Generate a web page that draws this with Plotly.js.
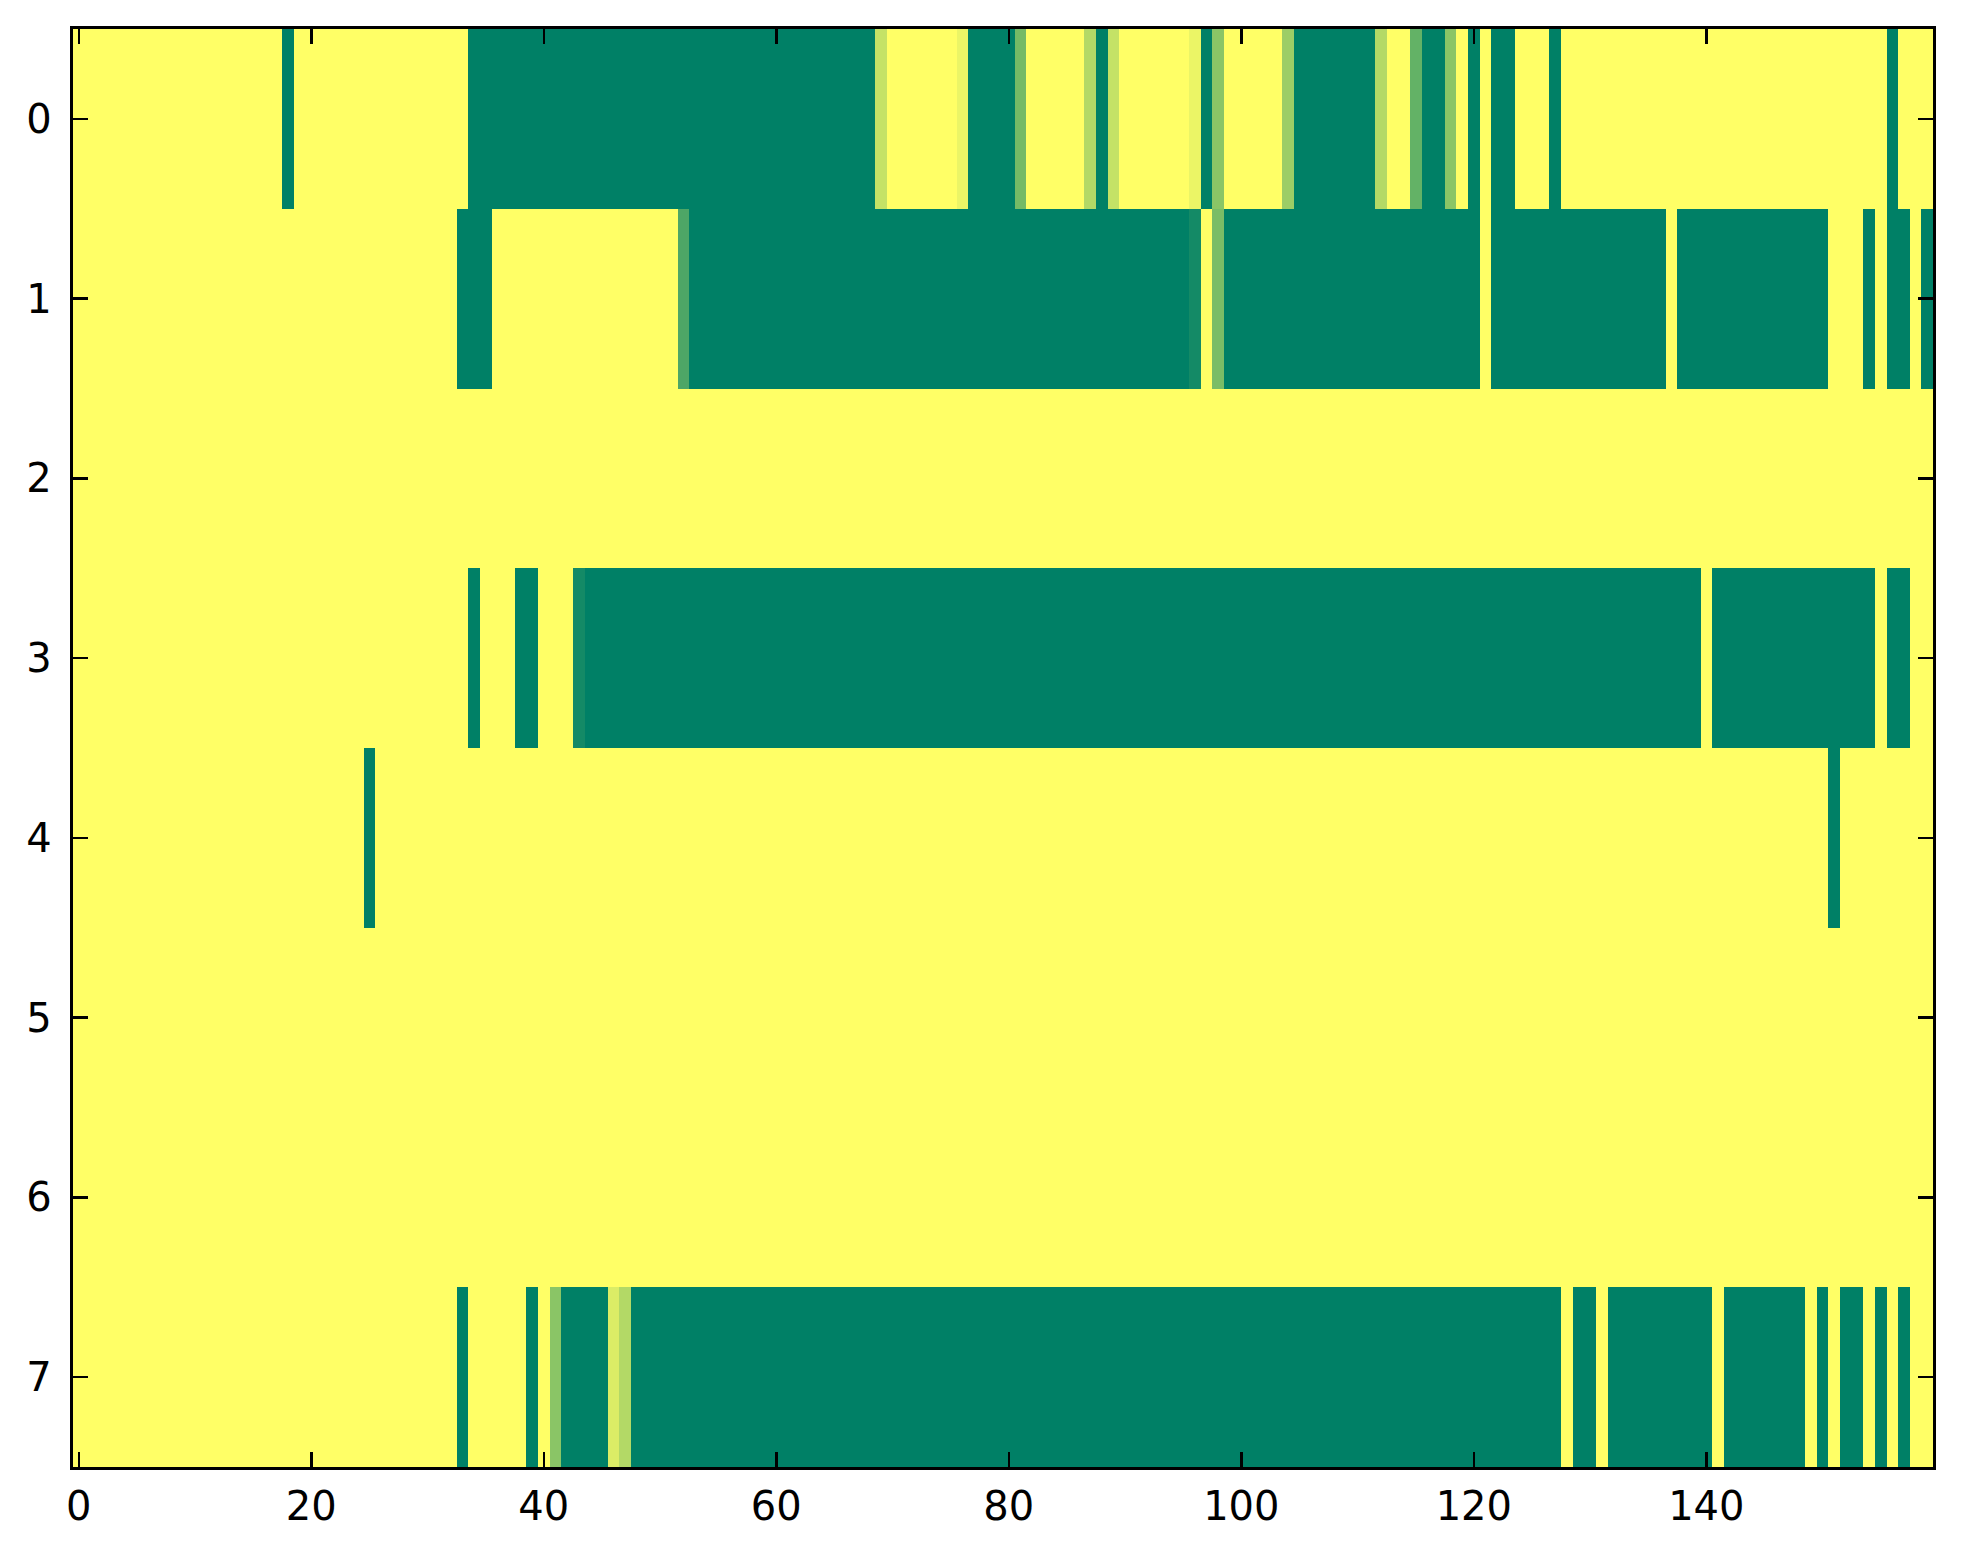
<!DOCTYPE html>
<html>
<head>
<meta charset="utf-8">
<script src="https://cdn.plot.ly/plotly-3.0.1.min.js"></script>
<style>
  html, body { margin: 0; padding: 0; background: #ffffff; }
  #chart { width: 1963px; height: 1564px; }
</style>
</head>
<body>
<div id="chart"></div>
<script>
// Row labels (y) and x tick labels
const rowLabels = [0, 1, 2, 3, 4, 5, 6, 7];
const xTickVals = [0, 20, 40, 60, 80, 100, 120, 140];
const yTickVals = [0, 1, 2, 3, 4, 5, 6, 7];

// Cell values (0 = green, 1 = yellow), 160 columns per row
const row0 = [
  1,1,1,1,1,1,1,1,1,1,
  1,1,1,1,1,1,1,1,0,1,
  1,1,1,1,1,1,1,1,1,1,
  1,1,1,1,0,0,0,0,0,0,
  0,0,0,0,0,0,0,0,0,0,
  0,0,0,0,0,0,0,0,0,0,
  0,0,0,0,0,0,0,0,0,0.77,
  1,1,1,1,1,1,0.92,0,0,0,
  0,0.46,1,1,1,1,1,0.70,0,0.77,
  1,1,1,1,1,1,0.92,0,0.54,1,
  1,1,1,1,0.61,0,0,0,0,0,
  0,0,0.70,1,1,0.39,0,0,0.54,1,
  0,1,0,0,1,1,1,0,1,1,
  1,1,1,1,1,1,1,1,1,1,
  1,1,1,1,1,1,1,1,1,1,
  1,1,1,1,1,1,0,1,1,1
];
const row1 = [
  1,1,1,1,1,1,1,1,1,1,
  1,1,1,1,1,1,1,1,1,1,
  1,1,1,1,1,1,1,1,1,1,
  1,1,1,0,0,0,1,1,1,1,
  1,1,1,1,1,1,1,1,1,1,
  1,1,0.30,0,0,0,0,0,0,0,
  0,0,0,0,0,0,0,0,0,0,
  0,0,0,0,0,0,0,0,0,0,
  0,0,0,0,0,0,0,0,0,0,
  0,0,0,0,0,0,0.08,1,0.48,0,
  0,0,0,0,0,0,0,0,0,0,
  0,0,0,0,0,0,0,0,0,0,
  0,1,0,0,0,0,0,0,0,0,
  0,0,0,0,0,0,0,1,0,0,
  0,0,0,0,0,0,0,0,0,0,
  0,1,1,1,0,1,0,0,1,0
];
const row2 = [
  1,1,1,1,1,1,1,1,1,1,
  1,1,1,1,1,1,1,1,1,1,
  1,1,1,1,1,1,1,1,1,1,
  1,1,1,1,1,1,1,1,1,1,
  1,1,1,1,1,1,1,1,1,1,
  1,1,1,1,1,1,1,1,1,1,
  1,1,1,1,1,1,1,1,1,1,
  1,1,1,1,1,1,1,1,1,1,
  1,1,1,1,1,1,1,1,1,1,
  1,1,1,1,1,1,1,1,1,1,
  1,1,1,1,1,1,1,1,1,1,
  1,1,1,1,1,1,1,1,1,1,
  1,1,1,1,1,1,1,1,1,1,
  1,1,1,1,1,1,1,1,1,1,
  1,1,1,1,1,1,1,1,1,1,
  1,1,1,1,1,1,1,1,1,1
];
const row3 = [
  1,1,1,1,1,1,1,1,1,1,
  1,1,1,1,1,1,1,1,1,1,
  1,1,1,1,1,1,1,1,1,1,
  1,1,1,1,0,1,1,1,0,0,
  1,1,1,0.08,0,0,0,0,0,0,
  0,0,0,0,0,0,0,0,0,0,
  0,0,0,0,0,0,0,0,0,0,
  0,0,0,0,0,0,0,0,0,0,
  0,0,0,0,0,0,0,0,0,0,
  0,0,0,0,0,0,0,0,0,0,
  0,0,0,0,0,0,0,0,0,0,
  0,0,0,0,0,0,0,0,0,0,
  0,0,0,0,0,0,0,0,0,0,
  0,0,0,0,0,0,0,0,0,0,
  1,0,0,0,0,0,0,0,0,0,
  0,0,0,0,0,1,0,0,1,1
];
const row4 = [
  1,1,1,1,1,1,1,1,1,1,
  1,1,1,1,1,1,1,1,1,1,
  1,1,1,1,1,0,1,1,1,1,
  1,1,1,1,1,1,1,1,1,1,
  1,1,1,1,1,1,1,1,1,1,
  1,1,1,1,1,1,1,1,1,1,
  1,1,1,1,1,1,1,1,1,1,
  1,1,1,1,1,1,1,1,1,1,
  1,1,1,1,1,1,1,1,1,1,
  1,1,1,1,1,1,1,1,1,1,
  1,1,1,1,1,1,1,1,1,1,
  1,1,1,1,1,1,1,1,1,1,
  1,1,1,1,1,1,1,1,1,1,
  1,1,1,1,1,1,1,1,1,1,
  1,1,1,1,1,1,1,1,1,1,
  1,0,1,1,1,1,1,1,1,1
];
const row5 = [
  1,1,1,1,1,1,1,1,1,1,
  1,1,1,1,1,1,1,1,1,1,
  1,1,1,1,1,1,1,1,1,1,
  1,1,1,1,1,1,1,1,1,1,
  1,1,1,1,1,1,1,1,1,1,
  1,1,1,1,1,1,1,1,1,1,
  1,1,1,1,1,1,1,1,1,1,
  1,1,1,1,1,1,1,1,1,1,
  1,1,1,1,1,1,1,1,1,1,
  1,1,1,1,1,1,1,1,1,1,
  1,1,1,1,1,1,1,1,1,1,
  1,1,1,1,1,1,1,1,1,1,
  1,1,1,1,1,1,1,1,1,1,
  1,1,1,1,1,1,1,1,1,1,
  1,1,1,1,1,1,1,1,1,1,
  1,1,1,1,1,1,1,1,1,1
];
const row6 = [
  1,1,1,1,1,1,1,1,1,1,
  1,1,1,1,1,1,1,1,1,1,
  1,1,1,1,1,1,1,1,1,1,
  1,1,1,1,1,1,1,1,1,1,
  1,1,1,1,1,1,1,1,1,1,
  1,1,1,1,1,1,1,1,1,1,
  1,1,1,1,1,1,1,1,1,1,
  1,1,1,1,1,1,1,1,1,1,
  1,1,1,1,1,1,1,1,1,1,
  1,1,1,1,1,1,1,1,1,1,
  1,1,1,1,1,1,1,1,1,1,
  1,1,1,1,1,1,1,1,1,1,
  1,1,1,1,1,1,1,1,1,1,
  1,1,1,1,1,1,1,1,1,1,
  1,1,1,1,1,1,1,1,1,1,
  1,1,1,1,1,1,1,1,1,1
];
const row7 = [
  1,1,1,1,1,1,1,1,1,1,
  1,1,1,1,1,1,1,1,1,1,
  1,1,1,1,1,1,1,1,1,1,
  1,1,1,0,1,1,1,1,1,0,
  1,0.54,0,0,0,0,0.86,0.70,0,0,
  0,0,0,0,0,0,0,0,0,0,
  0,0,0,0,0,0,0,0,0,0,
  0,0,0,0,0,0,0,0,0,0,
  0,0,0,0,0,0,0,0,0,0,
  0,0,0,0,0,0,0,0,0,0,
  0,0,0,0,0,0,0,0,0,0,
  0,0,0,0,0,0,0,0,0,0,
  0,0,0,0,0,0,0,0,1,0,
  0,1,0,0,0,0,0,0,0,0,
  0,1,0,0,0,0,0,0,0,1,
  0,1,0,0,1,0,1,0,1,1
];

const zRows = [row0, row1, row2, row3, row4, row5, row6, row7];
const colIndex = row0.map((_, i) => i);

const summer = [[0, 'rgb(0,128,102)'], [1, 'rgb(255,255,102)']];

const trace = {
  type: 'heatmap',
  z: zRows,
  x: colIndex,
  y: rowLabels,
  colorscale: summer,
  zmin: 0,
  zmax: 1,
  showscale: false,
  zsmooth: false,
  hoverinfo: 'skip'
};

const axisCommon = {
  showline: true,
  linecolor: '#000000',
  linewidth: 3.4,
  mirror: 'ticks',
  ticks: 'inside',
  ticklen: 15,
  tickwidth: 2.4,
  tickcolor: '#000000',
  showgrid: false,
  zeroline: false,
  tickfont: { family: 'DejaVu Sans', size: 40, color: '#000000' }
};

const layout = {
  width: 1963,
  height: 1564,
  margin: { l: 73, r: 30, t: 29, b: 97 },
  paper_bgcolor: '#ffffff',
  plot_bgcolor: '#ffffff',
  showlegend: false,
  xaxis: Object.assign({}, axisCommon, {
    range: [-0.5, 159.5],
    tickmode: 'array',
    tickvals: xTickVals,
    ticktext: xTickVals.map(String),
    ticklabelstandoff: 2
  }),
  yaxis: Object.assign({}, axisCommon, {
    range: [7.5, -0.5],
    tickmode: 'array',
    tickvals: yTickVals,
    ticktext: yTickVals.map(String),
    ticklabelstandoff: 10
  })
};

Plotly.newPlot('chart', [trace], layout, { displayModeBar: false, staticPlot: true });
</script>
</body>
</html>
